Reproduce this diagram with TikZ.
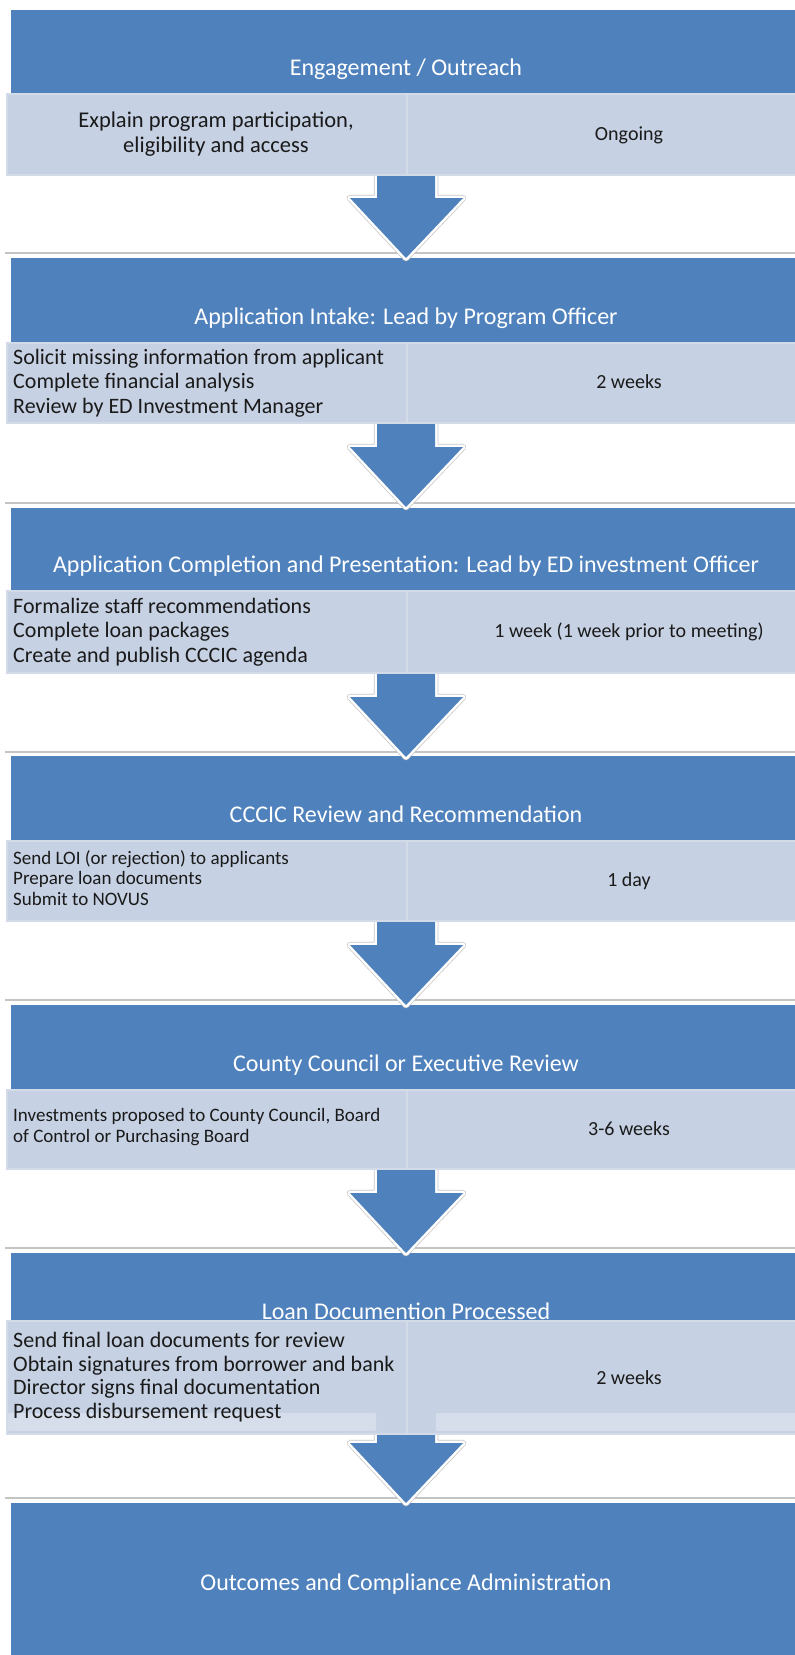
\documentclass[tikz,border=0pt]{standalone}
\usepackage{fontspec}
\setmainfont{Carlito}
\usetikzlibrary{calc}
\definecolor{hdr}{HTML}{4F81BD}
\definecolor{cell}{HTML}{C6D1E3}
\definecolor{celledge}{HTML}{D3DBE8}
\definecolor{rulecol}{HTML}{C4C4C4}
\definecolor{ink}{HTML}{1A1A1A}
\tikzset{
  hdrbox/.style={fill=hdr, draw=none, inner sep=0pt, minimum width=786, anchor=north west},
  cellbox/.style={fill=cell, draw=celledge, line width=1.5pt, inner sep=0pt, anchor=north west},
  hdrtext/.style={text=white, inner sep=0pt, anchor=base, font=\fontsize{24}{28}\selectfont},
  lefttext/.style={text=ink, inner sep=0pt, anchor=west, align=left, font=\fontsize{22}{24.5}\selectfont},
  smalltext/.style={text=ink, inner sep=0pt, anchor=west, align=left, font=\fontsize{19}{20.5}\selectfont},
  ctrtext/.style={text=ink, inner sep=0pt, align=center, font=\fontsize{22.5}{25}\selectfont},
  righttext/.style={text=ink, inner sep=0pt, anchor=base, font=\fontsize{20}{24}\selectfont},
  arrowshadow/.style={draw=gray!45, line width=6.5pt, line join=round},
  arrowrim/.style={draw=white, line width=5pt, line join=round},
  arrowbody/.style={fill=hdr}
}
\begin{document}
\begin{tikzpicture}[x=1pt,y=-1pt]
\useasboundingbox (0,0) rectangle (795,1655);
\fill[white] (0,0) rectangle (795,1655);
% blue header bands
\foreach \n/\t/\h in {1/10/93, 2/258/342, 3/508/590, 4/756/840, 5/1005/1089, 6/1253/1320}{
  \node[hdrbox, minimum height={\h-\t}] (h\n) at (11,\t) {};
}
\node[hdrbox, minimum height=160] (h7) at (11,1503) {};
% separator rules
\foreach \y in {253,503,752,1000,1248,1498}{
  \draw[rulecol, line width=1.2pt] (5,\y) -- (795,\y);
}
% block arrows
\foreach \l/\tip in {174/258, 422/507, 672/757, 920/1005, 1168/1253, 1433/1503}{
  \path[arrowshadow] (377,\l-8) -- (377,\tip-60) -- (350,\tip-60) -- (406,\tip) -- (463,\tip-60) -- (435,\tip-60) -- (435,\l-8);
  \path[arrowrim] (377,\l-8) -- (377,\tip-60) -- (350,\tip-60) -- (406,\tip) -- (463,\tip-60) -- (435,\tip-60) -- (435,\l-8);
  \path[arrowbody] (377,\l-8) -- (377,\tip-60) -- (350,\tip-60) -- (406,\tip) -- (463,\tip-60) -- (435,\tip-60) -- (435,\l-8) -- cycle;
}
% light cells
\foreach \n/\h/\l in {1/93/174, 2/342/422, 3/590/672, 4/840/920, 5/1089/1168, 6/1320/1433}{
  \fill[gray!30] (7,\l) rectangle (800,\l+2);
  \node[cellbox, minimum width=400, minimum height={\l-\h}] (a\n) at (6,\h) {};
  \node[cellbox, minimum width=400, minimum height={\l-\h}] (b\n) at (406,\h) {};
}
\fill[white, opacity=.3, rounded corners=2pt] (8,1413) rectangle (376,1431);
\fill[white, opacity=.3, rounded corners=2pt] (436,1413) rectangle (800,1431);
% header texts
\node[hdrtext] (t1) at (406,75) {Engagement / Outreach};
\node[hdrtext] (t2) at (406,324) {Application Intake: Lead by Program Officer};
\node[hdrtext] (t3) at (406,572) {Application Completion and Presentation: Lead by ED investment Officer};
\node[hdrtext] (t4) at (406,822) {CCCIC Review and Recommendation};
\node[hdrtext] (t5) at (406,1071) {County Council or Executive Review};
\node[hdrtext] (t6) at (406,1319) {Loan Documention Processed};
\node[hdrtext] (t7) at (406,1590) {Outcomes and Compliance Administration};
% left cell texts
\node[ctrtext] (l1) at (216,134) {Explain program participation,\\eligibility and access};
\node[lefttext] (l2) at (13,383) {Solicit missing information from applicant\\Complete financial analysis\\Review by ED Investment Manager};
\node[lefttext] (l3) at (13,632) {Formalize staff recommendations\\Complete loan packages\\Create and publish CCCIC agenda};
\node[smalltext] (l4) at (13,878) {Send LOI (or rejection) to applicants\\Prepare loan documents\\Submit to NOVUS};
\node[smalltext] (l5) at (13,1127) {Investments proposed to County Council, Board\\of Control or Purchasing Board};
\node[lefttext, font=\fontsize{22}{23.5}\selectfont] (l6) at (13,1377) {Send final loan documents for review\\Obtain signatures from borrower and bank\\Director signs final documentation\\Process disbursement request};
% right cell texts
\node[righttext] (r1) at (629,140) {Ongoing};
\node[righttext] (r2) at (629,388) {2 weeks};
\node[righttext] (r3) at (629,637) {1 week (1 week prior to meeting)};
\node[righttext] (r4) at (629,886) {1 day};
\node[righttext] (r5) at (629,1135) {3-6 weeks};
\node[righttext] (r6) at (629,1384) {2 weeks};
\end{tikzpicture}
\end{document}
